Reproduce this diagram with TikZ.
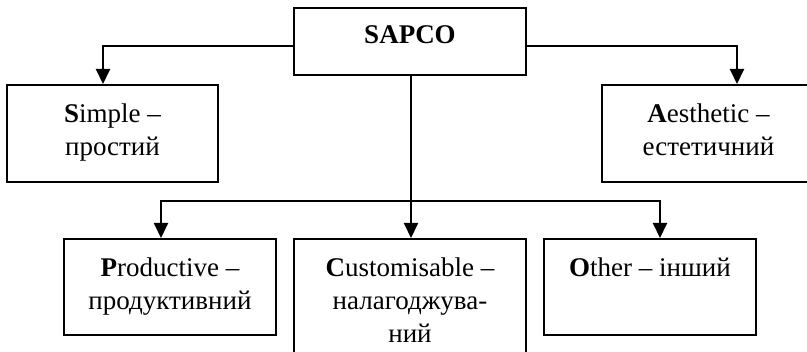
\documentclass[tikz,border=0pt]{standalone}
\usepackage{fontspec}
\setmainfont{Liberation Serif}
\usetikzlibrary{arrows.meta}

\begin{document}
\begin{tikzpicture}[x=1pt,y=1pt,
    blk/.style={draw,line width=2pt,inner sep=0pt},
    txt/.style={anchor=north,inner sep=0pt,align=center,font=\fontsize{27}{33}\selectfont},
    arr/.style={line width=2pt,-{Triangle[length=15pt,width=14pt]}}]
                \useasboundingbox (0,0) rectangle (807,-352);
                \node[blk,minimum width=232pt,minimum height=67pt] (sapco) at (410,-41.5) {};
                \node[blk,minimum width=211pt,minimum height=97pt] (simple) at (112.5,-133.5) {};
                \node[blk,minimum width=213pt,minimum height=97pt] (aesth) at (708.5,-133.5) {};
                \node[blk,minimum width=212pt,minimum height=96pt] (prod) at (170,-287) {};
                \node[blk,minimum width=232pt,minimum height=123pt] (cust) at (410,-300.5) {};
                \node[blk,minimum width=212pt,minimum height=96pt] (other) at (650,-287) {};
                \node[txt] (sapcot) at ([yshift=-16pt]sapco.north) {\rule{0pt}{20pt}\textbf{SAPCO}};
                \node[txt] (simplet) at ([yshift=-18pt]simple.north) {\rule{0pt}{20pt}\textbf{S}imple --\\простий};
                \node[txt] (aestht) at ([yshift=-18pt]aesth.north) {\rule{0pt}{20pt}\textbf{A}esthetic --\\естетичний};
                \node[txt] (prodt) at ([yshift=-18pt]prod.north) {\rule{0pt}{20pt}\textbf{P}roductive --\\продуктивний};
                \node[txt] (custt) at ([yshift=-18pt]cust.north) {\rule{0pt}{20pt}\textbf{C}ustomisable --\\налагоджува-\\ний};
                \node[txt] (othert) at ([yshift=-18pt]other.north) {\rule{0pt}{20pt}\textbf{O}ther -- інший};
                \coordinate (hub) at (411,-201);
                \draw[arr] ([yshift=-5pt]sapco.west) -| ([xshift=-9.5pt]simple.north);
                \draw[arr] ([yshift=-5pt]sapco.east) -| ([xshift=28.5pt]aesth.north);
                \draw[arr] (sapco.south -| hub) -- (cust.north -| hub);
                \draw[arr] (hub) -| ([xshift=-9pt]prod.north);
                \draw[arr] (hub) -| ([xshift=10pt]other.north);
            \end{tikzpicture}
\end{document}
